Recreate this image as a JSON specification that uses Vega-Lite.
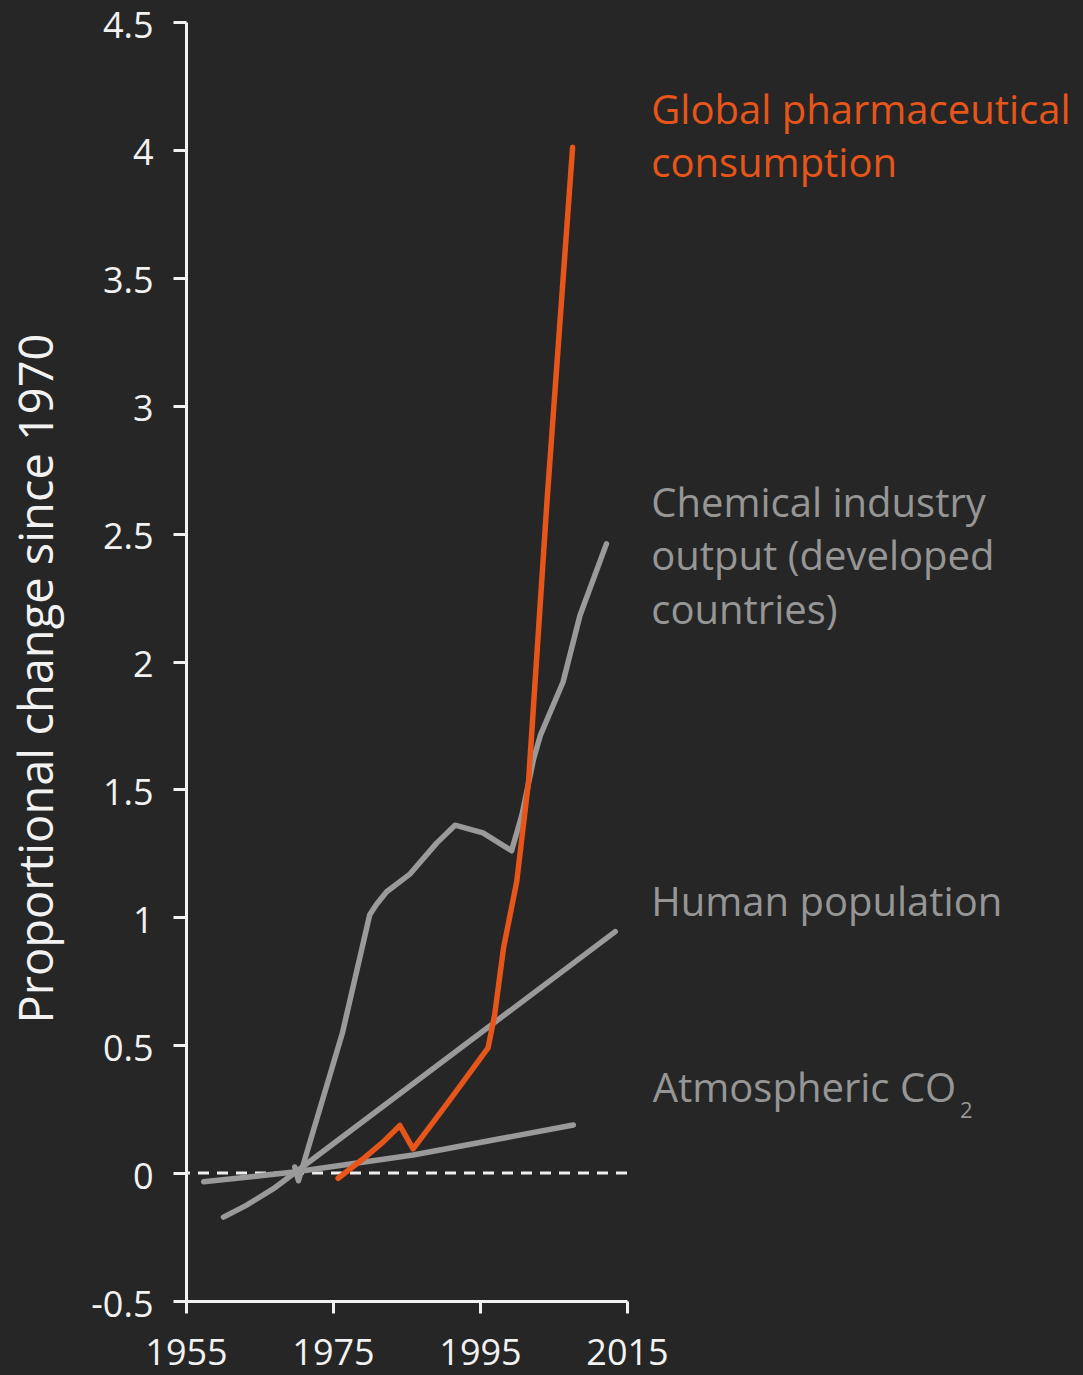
{
  "$schema": "https://vega.github.io/schema/vega-lite/v6.json",
  "width": 441,
  "height": 1279,
  "autosize": "none",
  "padding": {"left": 186, "top": 22, "right": 456, "bottom": 74},
  "background": "#262626",
  "config": {
    "view": {"stroke": null},
    "font": "Open Sans",
    "axis": {"grid": false}
  },
  "datasets": {
    "lines": [
      {"series": "Atmospheric CO2", "year": 1957.4, "value": -0.034},
      {"series": "Atmospheric CO2", "year": 1970.0, "value": 0.005},
      {"series": "Atmospheric CO2", "year": 1985.9, "value": 0.071},
      {"series": "Atmospheric CO2", "year": 2007.7, "value": 0.188},
      {"series": "Human population", "year": 1960.1, "value": -0.172},
      {"series": "Human population", "year": 1963.2, "value": -0.126},
      {"series": "Human population", "year": 1966.9, "value": -0.061},
      {"series": "Human population", "year": 1970.2, "value": 0.01},
      {"series": "Human population", "year": 2013.4, "value": 0.944},
      {"series": "Chemical industry", "year": 1969.8, "value": 0.024},
      {"series": "Chemical industry", "year": 1970.3, "value": -0.03},
      {"series": "Chemical industry", "year": 1976.3, "value": 0.55},
      {"series": "Chemical industry", "year": 1980.0, "value": 1.01},
      {"series": "Chemical industry", "year": 1980.9, "value": 1.05},
      {"series": "Chemical industry", "year": 1982.3, "value": 1.10},
      {"series": "Chemical industry", "year": 1985.5, "value": 1.17},
      {"series": "Chemical industry", "year": 1989.1, "value": 1.29},
      {"series": "Chemical industry", "year": 1991.6, "value": 1.36},
      {"series": "Chemical industry", "year": 1995.4, "value": 1.33},
      {"series": "Chemical industry", "year": 1999.3, "value": 1.26},
      {"series": "Chemical industry", "year": 2000.7, "value": 1.40},
      {"series": "Chemical industry", "year": 2002.3, "value": 1.62},
      {"series": "Chemical industry", "year": 2003.2, "value": 1.71},
      {"series": "Chemical industry", "year": 2006.3, "value": 1.92},
      {"series": "Chemical industry", "year": 2008.6, "value": 2.18},
      {"series": "Chemical industry", "year": 2012.2, "value": 2.46},
      {"series": "Pharmaceutical", "year": 1975.7, "value": -0.02},
      {"series": "Pharmaceutical", "year": 1979.1, "value": 0.056},
      {"series": "Pharmaceutical", "year": 1981.8, "value": 0.121},
      {"series": "Pharmaceutical", "year": 1984.1, "value": 0.186},
      {"series": "Pharmaceutical", "year": 1985.9, "value": 0.095},
      {"series": "Pharmaceutical", "year": 1990.5, "value": 0.271},
      {"series": "Pharmaceutical", "year": 1996.1, "value": 0.49},
      {"series": "Pharmaceutical", "year": 1997.0, "value": 0.62},
      {"series": "Pharmaceutical", "year": 1998.2, "value": 0.88},
      {"series": "Pharmaceutical", "year": 2000.0, "value": 1.14},
      {"series": "Pharmaceutical", "year": 2001.6, "value": 1.53},
      {"series": "Pharmaceutical", "year": 2004.1, "value": 2.62},
      {"series": "Pharmaceutical", "year": 2007.6, "value": 4.01}
    ],
    "labels": [
      {"text": "Global pharmaceutical", "group": "pharma", "year": 2018.3, "value": 4.101},
      {"text": "consumption", "group": "pharma", "year": 2018.3, "value": 3.895},
      {"text": "Chemical industry", "group": "other", "year": 2018.3, "value": 2.566},
      {"text": "output (developed", "group": "other", "year": 2018.3, "value": 2.358},
      {"text": "countries)", "group": "other", "year": 2018.3, "value": 2.147},
      {"text": "Human population", "group": "other", "year": 2018.3, "value": 1.005},
      {"text": "Atmospheric CO", "group": "other", "year": 2018.5, "value": 0.277}
    ],
    "subscript": [
      {"text": "2", "year": 2060.3, "value": 0.214}
    ]
  },
  "layer": [
    {
      "data": {"values": [{"value": 0}]},
      "mark": {"type": "rule", "color": "#eeeeee", "strokeWidth": 3, "strokeDash": [11, 8]},
      "encoding": {
        "y": {"field": "value", "type": "quantitative", "scale": {"domain": [-0.5, 4.5], "nice": false, "zero": false}}
      }
    },
    {
      "data": {"name": "lines"},
      "transform": [{"filter": "datum.series !== 'Pharmaceutical'"}],
      "mark": {"type": "line", "color": "#9a9a9a", "strokeWidth": 5.5, "strokeCap": "round", "strokeJoin": "round"},
      "encoding": {
        "x": {
          "field": "year", "type": "quantitative",
          "scale": {"domain": [1955, 2015], "nice": false, "zero": false},
          "axis": {
            "values": [1955, 1975, 1995, 2015], "format": "d", "title": null,
            "labelFontSize": 36, "labelColor": "#f2f2f2", "labelFont": "Open Sans",
            "labelPadding": 23, "labelFlush": false, "labelOverlap": false, "labelBound": false,
            "domainColor": "#f2f2f2", "domainWidth": 3, "tickColor": "#f2f2f2", "tickWidth": 3, "tickSize": 12
          }
        },
        "y": {
          "field": "value", "type": "quantitative",
          "scale": {"domain": [-0.5, 4.5], "nice": false, "zero": false},
          "axis": {
            "values": [-0.5, 0, 0.5, 1, 1.5, 2, 2.5, 3, 3.5, 4, 4.5],
            "labelExpr": "datum.value + ''",
            "title": "Proportional change since 1970",
            "titleFont": "Open Sans", "titleFontSize": 47, "titleFontWeight": "normal", "titleColor": "#f2f2f2",
            "titleAngle": 270, "titleAlign": "center", "titleBaseline": "alphabetic",
            "titleX": -134, "titleY": 656,
            "labelFontSize": 36, "labelColor": "#f2f2f2", "labelFont": "Open Sans",
            "labelPadding": 20, "labelOffset": 4, "labelFlush": false, "labelOverlap": false, "labelBound": false,
            "domainColor": "#f2f2f2", "domainWidth": 3, "tickColor": "#f2f2f2", "tickWidth": 3, "tickSize": 13
          }
        },
        "detail": {"field": "series", "type": "nominal"}
      }
    },
    {
      "data": {"name": "lines"},
      "transform": [{"filter": "datum.series === 'Pharmaceutical'"}],
      "mark": {"type": "line", "color": "#e65519", "strokeWidth": 5.5, "strokeCap": "round", "strokeJoin": "round"},
      "encoding": {
        "x": {"field": "year", "type": "quantitative"},
        "y": {"field": "value", "type": "quantitative"}
      }
    },
    {
      "data": {"name": "labels"},
      "mark": {"type": "text", "align": "left", "baseline": "alphabetic", "fontSize": 40, "font": "Open Sans"},
      "encoding": {
        "x": {"field": "year", "type": "quantitative"},
        "y": {"field": "value", "type": "quantitative"},
        "text": {"field": "text"},
        "color": {"field": "group", "type": "nominal", "scale": {"domain": ["pharma", "other"], "range": ["#e65519", "#969696"]}, "legend": null}
      }
    },
    {
      "data": {"name": "subscript"},
      "mark": {"type": "text", "align": "left", "baseline": "alphabetic", "fontSize": 22, "font": "Open Sans", "color": "#969696"},
      "encoding": {
        "x": {"field": "year", "type": "quantitative"},
        "y": {"field": "value", "type": "quantitative"},
        "text": {"field": "text"}
      }
    }
  ]
}
